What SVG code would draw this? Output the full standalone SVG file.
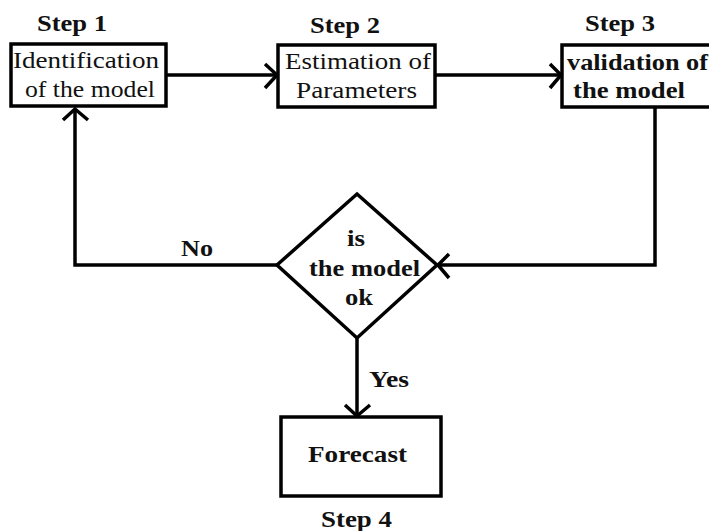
<svg xmlns="http://www.w3.org/2000/svg" width="709" height="531" viewBox="0 0 709 531">
<style>
.box{fill:#fff;stroke:#000;stroke-width:3.5}
.ln{fill:none;stroke:#000;stroke-width:3.5}
.ah{fill:none;stroke:#000;stroke-width:3.5;stroke-linejoin:miter}
.t{font-family:"Times New Roman","Liberation Serif",Times,serif;font-size:24px;fill:#111}
.b{font-family:"Times New Roman","Liberation Serif",Times,serif;font-size:23px;font-weight:bold;fill:#111}
</style>
<rect width="709" height="531" fill="#fff"/>
<g id="connectors">
<line class="ln" x1="166" y1="75" x2="277" y2="75"/>
<polyline class="ah" points="265,64 277,75 265,88"/>
<line class="ln" x1="435" y1="75" x2="561" y2="75"/>
<polyline class="ah" points="550,64 561,75 550,88"/>
<polyline class="ln" points="655,107 655,265 438,265"/>
<polyline class="ah" points="449,254 438,265 449,278"/>
<polyline class="ln" points="277,265 75,265 75,109"/>
<polyline class="ah" points="63,120 75,109 88,120"/>
<line class="ln" x1="357" y1="338" x2="357" y2="416"/>
<polyline class="ah" points="345,405 357,416 370,405"/>
<text class="b" x="181" y="256" textLength="32" lengthAdjust="spacingAndGlyphs">No</text>
<text class="b" x="369" y="387" textLength="40" lengthAdjust="spacingAndGlyphs">Yes</text>
</g>
<g id="step1">
<text class="b" x="37" y="31" textLength="70" lengthAdjust="spacingAndGlyphs">Step 1</text>
<rect class="box" x="11" y="44" width="155" height="62"/>
<text class="t" x="13" y="68" textLength="146" lengthAdjust="spacingAndGlyphs">Identification</text>
<text class="t" x="25" y="97" textLength="130" lengthAdjust="spacingAndGlyphs">of the model</text>
</g>
<g id="step2">
<text class="b" x="310" y="33" textLength="70" lengthAdjust="spacingAndGlyphs">Step 2</text>
<rect class="box" x="278" y="45" width="157" height="62"/>
<text class="t" x="285" y="69" textLength="146" lengthAdjust="spacingAndGlyphs">Estimation of</text>
<text class="t" x="296" y="98" textLength="121" lengthAdjust="spacingAndGlyphs">Parameters</text>
</g>
<g id="step3">
<text class="b" x="585" y="31" textLength="70" lengthAdjust="spacingAndGlyphs">Step 3</text>
<rect class="box" x="562" y="45" width="150" height="62"/>
<text class="b" x="567" y="70" textLength="141" lengthAdjust="spacingAndGlyphs">validation of</text>
<text class="b" x="573" y="98" textLength="112" lengthAdjust="spacingAndGlyphs">the model</text>
</g>
<g id="decision">
<polygon class="box" points="357,194 437,265 357,338 277,265"/>
<text class="b" x="347" y="246" textLength="18" lengthAdjust="spacingAndGlyphs">is</text>
<text class="b" x="309" y="276" textLength="111" lengthAdjust="spacingAndGlyphs">the model</text>
<text class="b" x="345" y="305" textLength="28" lengthAdjust="spacingAndGlyphs">ok</text>
</g>
<g id="step4">
<rect class="box" x="281" y="417" width="160" height="79"/>
<text class="b" x="308" y="462" textLength="99" lengthAdjust="spacingAndGlyphs">Forecast</text>
<text class="b" x="321" y="527" textLength="71" lengthAdjust="spacingAndGlyphs">Step 4</text>
</g>
</svg>
